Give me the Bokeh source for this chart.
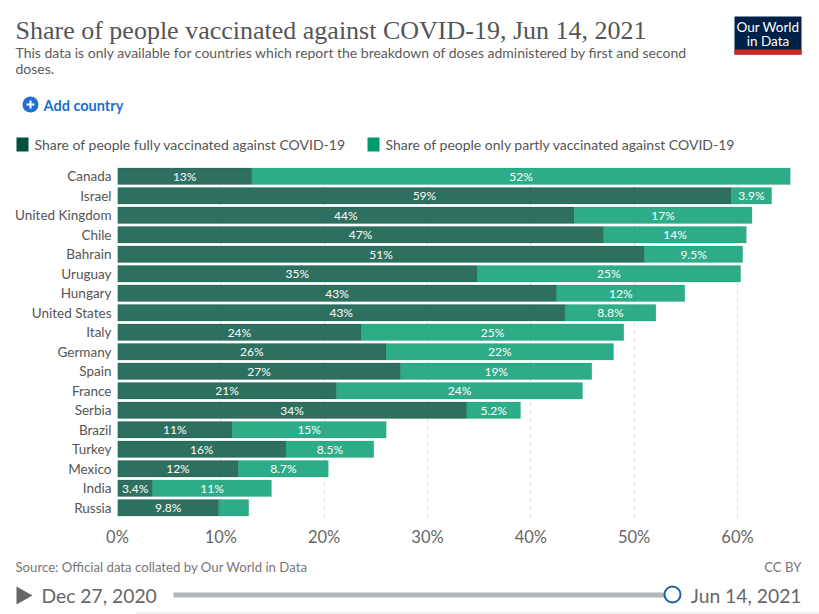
from bokeh.plotting import figure
from bokeh.layouts import column
from bokeh.models import ColumnDataSource, Label, BoxAnnotation, PolyAnnotation, Range1d, FactorRange, PrintfTickFormatter
from bokeh.embed import file_html
from bokeh.resources import INLINE
from bokeh.core.properties import value

countries = ["Canada", "Israel", "United Kingdom", "Chile", "Bahrain", "Uruguay", "Hungary", "United States",
             "Italy", "Germany", "Spain", "France", "Serbia", "Brazil", "Turkey", "Mexico", "India", "Russia"]
fully = [13.0, 59.4, 44.2, 47.05, 51.0, 34.8, 42.5, 43.3, 23.6, 26.0, 27.4, 21.2, 33.8, 11.1, 16.3, 11.7, 3.4, 9.8]
partly = [52.1, 3.9, 17.2, 13.8, 9.5, 25.5, 12.4, 8.8, 25.4, 22.0, 18.5, 23.8, 5.2, 14.9, 8.5, 8.7, 11.5, 2.9]
fully_labels = ["13%", "59%", "44%", "47%", "51%", "35%", "43%", "43%", "24%", "26%", "27%", "21%", "34%", "11%", "16%", "12%", "3.4%", "9.8%"]
partly_labels = ["52%", "3.9%", "17%", "14%", "9.5%", "25%", "12%", "8.8%", "25%", "22%", "19%", "24%", "5.2%", "15%", "8.5%", "8.7%", "11%", ""]
x_ticks = [0, 10, 20, 30, 40, 50, 60]

FONT = "Lato"
DARK = "#00513c"
MID = "#009a6c"
W = 819
LEFT = 117
TOP_H, CHART_FRAME_H, CHART_AXIS_H, FOOT_H = 166, 351, 40, 57

p = figure(width=W, height=CHART_FRAME_H + CHART_AXIS_H, output_backend="svg", toolbar_location=None,
           x_range=Range1d(0, 66), y_range=FactorRange(factors=countries[::-1]), frame_align=False,
           min_border_left=LEFT, min_border_right=W - LEFT - 682, min_border_top=0, min_border_bottom=CHART_AXIS_H)
p.y_range.range_padding = 0
p.outline_line_color = None
p.background_fill_color = "white"
p.ygrid.visible = False
p.xgrid.ticker = x_ticks
p.xgrid.grid_line_color = "#dddddd"
p.xgrid.grid_line_dash = "4 4"
p.xaxis.ticker = x_ticks
p.xaxis.formatter = PrintfTickFormatter(format="%d%%")
p.xaxis.axis_line_color = None
p.xaxis.major_tick_line_color = None
p.xaxis.major_tick_out = 0
p.xaxis.minor_tick_line_color = None
p.xaxis.major_label_text_font = FONT
p.xaxis.major_label_text_font_size = "16.5px"
p.xaxis.major_label_text_color = "#666666"
p.xaxis.major_label_standoff = 9
p.yaxis.axis_line_color = None
p.yaxis.major_tick_line_color = None
p.yaxis.major_tick_out = 0
p.yaxis.major_label_text_font = FONT
p.yaxis.major_label_text_font_size = "13.5px"
p.yaxis.major_label_text_color = "#555555"
p.yaxis.major_label_standoff = 6

src = ColumnDataSource(dict(c=countries, f=fully, t=[a + b for a, b in zip(fully, partly)],
                            fm=[a / 2 for a in fully], pm=[a + b / 2 for a, b in zip(fully, partly)],
                            fl=fully_labels, pl=partly_labels, z=[0] * len(fully)))
p.hbar(y="c", left="z", right="f", height=0.84, source=src, fill_color=DARK, fill_alpha=0.82,
       line_color=DARK, line_alpha=0.2)
p.hbar(y="c", left="f", right="t", height=0.84, source=src, fill_color=MID, fill_alpha=0.82,
       line_color=MID, line_alpha=0.2)
for xcol, tcol in (("fm", "fl"), ("pm", "pl")):
    p.text(x=xcol, y="c", text=tcol, source=src, text_color="white", text_font=value(FONT),
           text_font_style="normal", text_font_size="12px", text_align="center", text_baseline="middle")


def panel(height):
    f = figure(width=W, height=height, output_backend="svg", toolbar_location=None,
               x_range=Range1d(0, W), y_range=Range1d(0, height), x_axis_type=None, y_axis_type=None,
               frame_align=False,
               min_border=0, min_border_left=0, min_border_right=0, min_border_top=0, min_border_bottom=0)
    f.grid.visible = False
    f.outline_line_color = None
    return f


head = panel(TOP_H)
foot = panel(FOOT_H)
FOOT_TOP = TOP_H + CHART_FRAME_H + CHART_AXIS_H


def Y(f, y):
    top = FOOT_TOP if f is foot else 0
    return f.height - (y - top)


def txt(f, x, y, s, size, color, font=FONT, align="left", style="normal"):
    f.add_layout(Label(x=x, y=Y(f, y), x_units="screen", y_units="screen", text=s, text_font=font,
                       text_font_size=size, text_color=color, text_align=align,
                       text_baseline="middle", text_font_style=style))


def box(f, x0, y0, x1, y1, color, radius=0, line=None):
    f.add_layout(BoxAnnotation(left=x0, right=x1, top=Y(f, y0), bottom=Y(f, y1),
                               left_units="screen", right_units="screen", top_units="screen", bottom_units="screen",
                               fill_color=color, fill_alpha=1, line_color=line, line_alpha=1, line_width=2 if line else 0,
                               border_radius=radius, editable=False))


txt(head, 15, 30, "Share of people vaccinated against COVID-19, Jun 14, 2021", "26px", "#555555", font="Liberation Serif")
txt(head, 15, 52, "This data is only available for countries which report the breakdown of doses administered by first and second", "14px", "#5b5b5b")
txt(head, 15, 68, "doses.", "14px", "#5b5b5b")

box(head, 734, 16, 801, 54, "#002147")
box(head, 734, 49, 801, 54, "#ce261e")
txt(head, 767.5, 26, "Our World", "13.5px", "white", align="center")
txt(head, 767.5, 40, "in Data", "13.5px", "white", align="center")

box(head, 22, 96, 38, 112, "#1d6fd6", radius=8)
box(head, 26, 103, 34, 105, "white")
box(head, 29, 100, 31, 108, "white")
txt(head, 43, 105, "Add country", "14.5px", "#1a70d1", style="bold")

box(head, 16, 137, 28, 151, DARK)
txt(head, 34, 144, "Share of people fully vaccinated against COVID-19", "14px", "#555555")
box(head, 367, 137, 379, 151, MID)
txt(head, 385, 144, "Share of people only partly vaccinated against COVID-19", "14px", "#555555")

txt(foot, 15, 566, "Source: Official data collated by Our World in Data", "13.2px", "#777777")
txt(foot, 801, 566, "CC BY", "13.2px", "#777777", align="right")

foot.add_layout(PolyAnnotation(xs=[16, 32, 16], ys=[Y(foot, 586), Y(foot, 595), Y(foot, 604)],
                               xs_units="screen", ys_units="screen", fill_color="#666666", fill_alpha=1, line_color=None))
txt(foot, 41, 595, "Dec 27, 2020", "19.3px", "#666666")
box(foot, 173, 592, 672, 597, "#b0b5bb")
box(foot, 664, 586, 680, 602, "white", radius=8, line="#1d5fa8")
txt(foot, 801, 595, "Jun 14, 2021", "19.3px", "#666666", align="right")
box(foot, 135, 612, 819, 613, "#e2e2e2")

page = column(head, p, foot, spacing=0)
open("out.html", "w").write(file_html(page, INLINE))
